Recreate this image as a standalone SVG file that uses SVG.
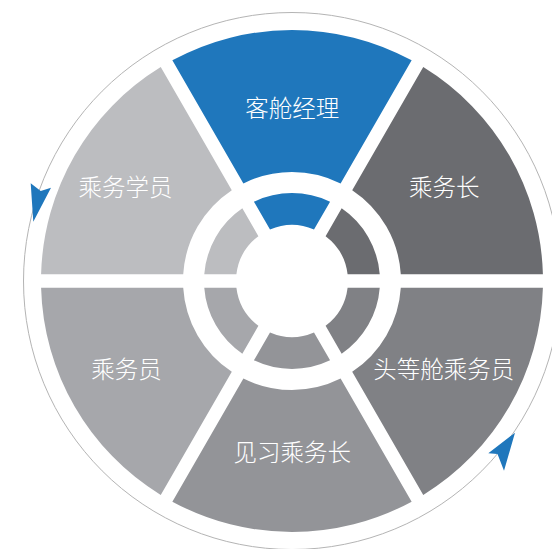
<svg xmlns="http://www.w3.org/2000/svg" width="552" height="549" viewBox="0 0 552 549">
  <style>
    .lbl { font-family: "Noto Sans CJK SC", "Noto Sans", sans-serif; font-size: 23.5px; font-weight: 300; fill: #ffffff; text-anchor: middle; }
    .ring { fill: none; stroke: #b4b4b4; stroke-width: 1; }
    .arrow { fill: #1f77bc; }
  </style>
  <rect width="552" height="549" fill="#ffffff"/>
  <g id="connectors">
    <circle class="ring" cx="292" cy="281" r="268.5"/>
    <path class="arrow" d="M30.7,183.3 L40.7,191 L51,187.7 L33.3,221.7 Z"/>
    <path class="arrow" d="M515,432.7 L504,470.7 L497.5,454 L488.3,453.3 Z"/>
  </g>
  <g id="node-manager">
    <path fill="#1f77bc" d="M172.35,60.35 A251,251 0 0 1 411.65,60.35 L340.59,183.43 A109,109 0 0 0 243.41,183.43 Z"/>
    <path fill="#1f77bc" d="M253.93,201.66 A88,88 0 0 1 330.07,201.66 L314,229.5 A56,56 0 0 0 270,229.5 Z"/>
    <text class="lbl" x="292.2" y="117">客舱经理</text>
  </g>
  <g id="node-purser">
    <path fill="#6b6c70" d="M423.26,67.06 A251,251 0 0 1 542.91,274.3 L400.79,274.3 A109,109 0 0 0 352.2,190.13 Z"/>
    <path fill="#6b6c70" d="M341.67,208.36 A88,88 0 0 1 379.74,274.3 L347.6,274.3 A56,56 0 0 0 325.6,236.2 Z"/>
    <text class="lbl" x="444.3" y="196">乘务长</text>
  </g>
  <g id="node-first-class">
    <path fill="#808185" d="M542.91,287.7 A251,251 0 0 1 423.26,494.94 L352.2,371.87 A109,109 0 0 0 400.79,287.7 Z"/>
    <path fill="#808185" d="M379.74,287.7 A88,88 0 0 1 341.67,353.64 L325.6,325.8 A56,56 0 0 0 347.6,287.7 Z"/>
    <text class="lbl" x="443.7" y="378">头等舱乘务员</text>
  </g>
  <g id="node-trainee-purser">
    <path fill="#939498" d="M411.65,501.65 A251,251 0 0 1 172.35,501.65 L243.41,378.57 A109,109 0 0 0 340.59,378.57 Z"/>
    <path fill="#939498" d="M330.07,360.34 A88,88 0 0 1 253.93,360.34 L270,332.5 A56,56 0 0 0 314,332.5 Z"/>
    <text class="lbl" x="292.2" y="461">见习乘务长</text>
  </g>
  <g id="node-attendant">
    <path fill="#a6a7ab" d="M160.74,494.94 A251,251 0 0 1 41.09,287.7 L183.21,287.7 A109,109 0 0 0 231.8,371.87 Z"/>
    <path fill="#a6a7ab" d="M242.33,353.64 A88,88 0 0 1 204.26,287.7 L236.4,287.7 A56,56 0 0 0 258.4,325.8 Z"/>
    <text class="lbl" x="126.5" y="378">乘务员</text>
  </g>
  <g id="node-student">
    <path fill="#bcbdc0" d="M41.09,274.3 A251,251 0 0 1 160.74,67.06 L231.8,190.13 A109,109 0 0 0 183.21,274.3 Z"/>
    <path fill="#bcbdc0" d="M204.26,274.3 A88,88 0 0 1 242.33,208.36 L258.4,236.2 A56,56 0 0 0 236.4,274.3 Z"/>
    <text class="lbl" x="125.5" y="196">乘务学员</text>
  </g>
</svg>
